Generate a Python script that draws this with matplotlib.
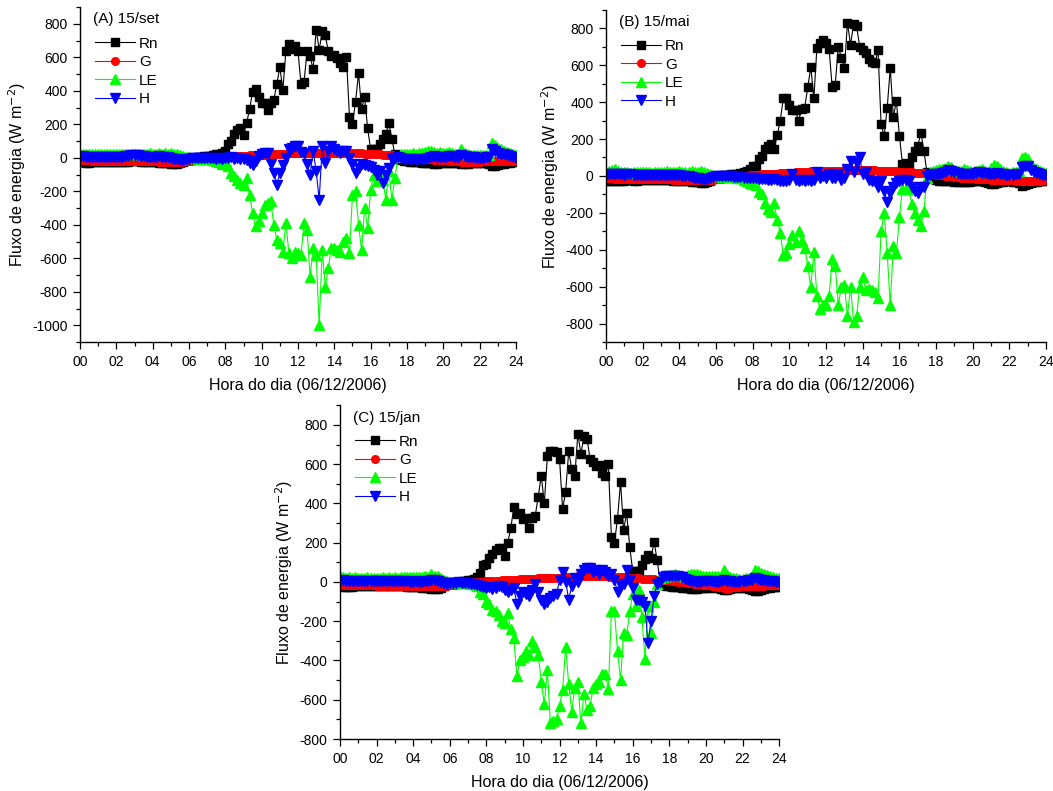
import numpy as np
import matplotlib.pyplot as plt
from matplotlib.ticker import MultipleLocator

plt.rcParams['font.family'] = ['Liberation Sans', 'DejaVu Sans']
plt.rcParams['axes.unicode_minus'] = False

# 10-min time steps, 00:00 .. 24:00
hours = np.arange(145) / 6.0

# ---------- (A) 15/set ----------
rn_a = [-25, -28, -30, -30, -28, -27, -26, -25, -25, -26, -27, -26,
        -25, -24, -24, -23, -24, -22, -20, -22, -24, -25, -26, -27,
        -28, -28, -29, -30, -31, -33, -35, -36, -35, -33, -25, -15,
        -8, -3, 0, 3, 5, 8, 10, 12, 15, 20, 25, 30,
        40, 85, 100, 140, 165, 175, 135, 205, 290, 395, 410, 365,
        330, 330, 285, 330, 345, 440, 540, 405, 640, 680, 650, 670,
        635, 440, 455, 635, 605, 530, 765, 645, 755, 735, 635, 610,
        615, 595, 565, 540, 600, 245, 200, 335, 505, 290, 365, 175,
        50, 55, 50, 85, 115, 140, 205, 115, 20, -5, -15, -20,
        -22, -25, -25, -27, -28, -30, -30, -32, -33, -35, -35, -34,
        -33, -32, -30, -30, -32, -34, -38, -40, -36, -33, -32, -31,
        -30, -30, -31, -35, -50, -48, -42, -38, -35, -32, -30, -28,
        -25]
g_a = [-15, -15, -16, -16, -17, -17, -17, -18, -18, -18, -19, -19,
       -19, -20, -20, -20, -20, -21, -21, -21, -21, -22, -22, -22,
       -22, -22, -23, -23, -23, -23, -23, -24, -24, -24, -23, -22,
       -20, -18, -16, -14, -12, -10, -8, -6, -4, -2, 0, 2,
       4, 5, 7, 8, 10, 11, 12, 13, 14, 15, 16, 17,
       18, 19, 20, 21, 22, 23, 24, 25, 25, 26, 27, 27,
       28, 28, 29, 29, 30, 30, 30, 31, 31, 31, 31, 31,
       30, 30, 30, 29, 29, 28, 28, 27, 26, 26, 25, 24,
       23, 22, 21, 20, 19, 18, 16, 15, 13, 11, 9, 7,
       5, 3, 1, -1, -3, -5, -7, -9, -10, -12, -13, -14,
       -15, -16, -17, -18, -19, -20, -24, -28, -27, -26, -25, -24,
       -23, -22, -22, -21, -21, -20, -20, -19, -19, -18, -18, -17,
       -17]
le_a = [22, 25, 20, 24, 22, 21, 23, 20, 22, 24, 21, 22,
        20, 23, 21, 22, 24, 20, 22, 25, 23, 20, 22, 26,
        24, 22, 27, 25, 28, 24, 26, 22, 24, 18, 12, 6,
        2, -2, -4, -5, -6, -8, -8, -10, -12, -18, -25, -35,
        -40, -50, -90, -110, -130, -150, -160, -120, -220, -330, -410, -380,
        -330, -280, -270, -260, -400, -490, -510, -560, -390, -570, -600, -560,
        -570, -580, -390, -430, -710, -540, -580, -1000, -550, -770, -660, -540,
        -540, -550, -560, -500, -480, -570, -220, -200, -400, -550, -300, -420,
        -190, -100, -140, -100, -130, -250, -80, -250, -120, 5, 20, 25,
        22, 25, 28, 24, 26, 30, 35, 40, 38, 34, 30, 32,
        30, 28, 32, 26, 24, 22, 50, 30, 20, 18, 16, 15,
        14, 16, 15, 18, 90, 75, 60, 50, 40, 35, 28, 20,
        15]
h_a = [5, 8, 6, 4, 7, 5, 6, 4, 5, 7, 3, 5,
       4, 6, 5, 8, 12, 15, 18, 14, 10, 8, 6, 5,
       4, 6, 8, 5, 3, 2, 0, -5, -10, -15, -12, -8,
       -5, -3, -2, 0, -2, -3, -2, 0, -3, -5, -4, -6,
       -2, 0, 2, -5, -3, -8, -10, -15, -30, -45, -20, 10,
       25, 30, 28, -40, -90, -160, -90, -45, 0, 50, 60, 70,
       70, 34, 26, -40, -100, 40, -80, -250, 70, -34, 40, 70,
       50, 40, 30, 40, 40, 0, -40, -90, -60, -40, -45, -50,
       -55, -70, -100, -80, -150, -100, -60, -6, 0, 2, 0, -5,
       -5, -8, -10, -12, -10, -8, -5, 0, 5, 8, 6, 4,
       3, 5, 8, 10, 6, 4, 15, 10, 5, 3, 2, 0,
       -2, 0, 2, 5, 50, 40, 30, 25, 20, 15, 10, 5,
       0]

# ---------- (B) 15/mai ----------
rn_b = [-25, -27, -28, -27, -26, -25, -25, -24, -24, -25, -25, -24,
        -24, -23, -23, -24, -24, -23, -22, -22, -23, -24, -25, -26,
        -27, -28, -29, -30, -31, -33, -35, -37, -36, -34, -28, -18,
        -10, -4, 0, 3, 6, 8, 10, 13, 18, 22, 28, 35,
        55, 55, 90, 110, 145, 160, 175, 145, 220, 300, 420, 420,
        385, 355, 355, 300, 360, 370, 480, 590, 420, 695, 720, 735,
        720, 685, 480, 495, 700, 640, 585, 830, 710, 825, 810, 700,
        680, 665, 635, 615, 610, 680, 280, 215, 370, 585, 320, 405,
        215, 65, 70, 60, 105, 135, 160, 235, 135, 20, -10, -18,
        -22, -25, -26, -27, -28, -30, -32, -34, -35, -34, -33, -32,
        -30, -28, -28, -30, -33, -36, -42, -45, -40, -35, -32, -30,
        -30, -31, -33, -40, -55, -50, -45, -40, -35, -32, -30, -28,
        -25]
g_b = [-12, -13, -13, -14, -14, -15, -15, -15, -16, -16, -16, -17,
       -17, -17, -18, -18, -18, -18, -19, -19, -19, -19, -20, -20,
       -20, -20, -21, -21, -21, -21, -21, -22, -22, -22, -21, -20,
       -18, -16, -14, -12, -10, -8, -6, -4, -2, 0, 2, 4,
       5, 6, 7, 8, 9, 10, 11, 12, 13, 14, 15, 16,
       17, 18, 19, 20, 21, 22, 23, 24, 24, 25, 26, 26,
       27, 27, 28, 28, 29, 29, 30, 30, 30, 31, 31, 31,
       31, 31, 30, 30, 30, 29, 29, 28, 27, 26, 25, 24,
       23, 22, 21, 20, 19, 18, 17, 16, 15, 13, 11, 9,
       7, 5, 3, 1, -1, -3, -5, -7, -9, -10, -11, -12,
       -13, -14, -15, -16, -17, -18, -20, -22, -22, -21, -21, -20,
       -20, -22, -25, -28, -30, -30, -29, -28, -27, -26, -25, -24,
       -23]
le_b = [20, 25, 30, 35, 28, 22, 20, 22, 18, 21, 23, 20,
        19, 22, 20, 18, 21, 23, 20, 22, 24, 21, 19, 22,
        25, 23, 20, 22, 24, 21, 23, 26, 22, 18, 10, 4,
        0, -3, -5, -6, -7, -8, -8, -10, -12, -20, -30, -40,
        -45, -50, -85, -100, -145, -180, -195, -145, -240, -310, -430, -420,
        -370, -320, -360, -300, -350, -390, -490, -600, -410, -650, -720, -700,
        -700, -650, -450, -490, -700, -600, -590, -760, -600, -790, -760, -600,
        -550, -620, -610, -620, -630, -660, -300, -200, -420, -700, -380, -420,
        -220, -70, -70, -70, -150, -200, -240, -270, -190, -10, 20, 25,
        30, 35, 40, 45, 55, 50, 30, 25, 28, 35, 30, 26,
        22, 25, 30, 35, 28, 22, 45, 60, 55, 35, 25, 20,
        18, 20, 22, 25, 95, 100, 90, 60, 45, 35, 28, 22,
        18]
h_b = [5, 8, 10, 12, 10, 8, 6, 8, 10, 7, 5, 6,
       5, 7, 6, 4, 5, 6, 5, 4, 3, 6, 5, 4,
       3, 2, 0, -3, -6, -10, -12, -15, -18, -15, -10, -5,
       -3, -2, 0, -1, -3, -2, -5, -6, -8, -10, -10, -12,
       -10, -12, -15, -14, -18, -20, -20, -18, -22, -25, -28, -25,
       -20, 10, -20, -30, -20, -30, -20, -30, -20, 20, -10, 0,
       -10, 10, -10, -10, 10, -20, -10, 40, 80, 20, 70, 100,
       10, 20, -20, -30, -30, -60, -30, -80, -140, -90, -60, -40,
       -30, -20, -20, -30, -60, -80, -90, -60, -60, 0, 5, 8,
       10, 12, 15, 20, 30, 25, 20, 15, 10, 12, 8, 10,
       12, 15, 20, 18, 15, 12, 10, 12, 15, 10, 8, 5,
       3, 5, 8, 10, 50, 55, 55, 30, 20, 15, 10, 5,
       3]

# ---------- (C) 15/jan ----------
rn_c = [-22, -24, -25, -25, -24, -23, -23, -22, -22, -23, -23, -22,
        -22, -21, -21, -22, -22, -21, -20, -21, -22, -23, -24, -25,
        -26, -27, -28, -29, -30, -32, -34, -35, -34, -30, -22, -12,
        -6, -2, 0, 2, 4, 6, 8, 10, 15, 27, 48, 87,
        92, 121, 143, 164, 172, 175, 133, 200, 273, 382, 345, 350,
        320, 325, 275, 325, 335, 435, 540, 400, 640, 665, 665, 660,
        625, 370, 460, 665, 575, 540, 755, 650, 745, 730, 625, 610,
        590, 595, 555, 540, 600, 230, 200, 320, 510, 265, 350, 180,
        55, 55, 55, 85, 115, 135, 120, 205, 110, 0, -15, -20,
        -22, -24, -26, -28, -30, -32, -33, -34, -35, -34, -33, -32,
        -30, -29, -28, -30, -33, -36, -40, -42, -38, -33, -31, -30,
        -30, -31, -34, -40, -48, -46, -40, -36, -33, -30, -28, -26,
        -24]
g_c = [-15, -15, -16, -16, -16, -17, -17, -17, -18, -18, -18, -18,
       -19, -19, -19, -19, -20, -20, -20, -20, -20, -21, -21, -21,
       -21, -21, -22, -22, -22, -22, -22, -22, -22, -21, -20, -19,
       -17, -15, -13, -11, -9, -7, -5, -3, -1, 0, 1, 2,
       3, 4, 5, 6, 7, 8, 9, 10, 11, 12, 12, 13,
       14, 15, 15, 16, 17, 18, 18, 19, 20, 20, 21, 22,
       22, 23, 24, 25, 26, 27, 28, 29, 30, 30, 31, 31,
       30, 30, 29, 29, 28, 27, 26, 25, 24, 23, 22, 21,
       20, 19, 18, 17, 16, 15, 14, 13, 12, 11, 10, 9,
       8, 6, 4, 2, 0, -2, -4, -6, -8, -10, -12, -14,
       -16, -18, -20, -22, -24, -26, -30, -35, -32, -28, -26, -24,
       -23, -22, -21, -21, -20, -20, -19, -19, -18, -18, -17, -17,
       -17]
le_c = [30, 25, 22, 24, 20, 23, 21, 22, 20, 23, 21, 22,
        20, 22, 24, 21, 23, 22, 24, 22, 25, 23, 26, 24,
        25, 27, 24, 26, 28, 26, 38, 32, 28, 20, 12, 5,
        2, 0, -2, -3, -4, -5, -5, -8, -12, -20, -50, -60,
        -100, -110, -145, -150, -170, -200, -210, -160, -240, -285, -480, -400,
        -380, -350, -370, -300, -330, -370, -510, -620, -450, -720, -710, -700,
        -630, -550, -330, -520, -660, -540, -510, -720, -570, -650, -630, -540,
        -520, -510, -470, -470, -545, -150, -150, -350, -500, -260, -270, -150,
        -60, -120, -40, -180, -390, -120, -260, -100, -10, 20, 25, 30,
        30, 35, 40, 35, 30, 32, 35, 40, 42, 38, 35, 30,
        30, 28, 32, 30, 28, 25, 60, 35, 25, 20, 18, 15,
        15, 18, 20, 25, 60, 55, 45, 40, 35, 30, 25, 20,
        20]
h_c = [5, 8, 6, 5, 7, 6, 5, 4, 6, 5, 4, 5,
       4, 5, 3, 4, 5, 4, 3, 4, 5, 4, 3, 2,
       2, 3, 2, 1, 3, 5, 8, 10, 5, 0, -5, -8,
       -6, -4, -3, -2, -4, -5, -5, -8, -10, -15, -20, -25,
       -30, -25, -35, -30, -20, -25, -40, -50, -40, -30, -110, -70,
       -50, -60, -70, -40, -10, -50, -90, -110, -100, -80, -70, -60,
       10, 50, 0, -90, -20, 20, 0, 40, 60, 70, 70, 50,
       60, 40, 60, 50, 30, 40, 10, -50, -20, -10, 60, 10,
       -30, -90, -90, -100, -120, -310, -200, -70, -10, 0, 25, 30,
       30, 30, 28, 30, 25, 15, 10, 5, 3, 0, 2, 5,
       3, 5, 4, 2, 0, 3, 10, 5, 3, 0, -2, 0,
       3, 5, 8, 10, 20, 15, 10, 8, 6, 5, 3, 2,
       0]

x_ticks = ['00', '02', '04', '06', '08', '10', '12', '14', '16', '18', '20', '22', '24']


def draw_panel(ax, rn, g, le, h, label, ylim):
    ax.plot(hours, rn, '-s', color='black', ms=5.5, lw=0.8, label='Rn')
    ax.plot(hours, g, '-o', color='red', ms=5.5, lw=0.8, label='G')
    ax.plot(hours, le, '-^', color='#00ff00', ms=6.5, lw=0.8, label='LE')
    ax.plot(hours, h, '-v', color='blue', ms=6.5, lw=0.8, label='H')

    ax.set_xlim(0, 24)
    ax.set_ylim(*ylim)
    ax.set_xticks(np.arange(0, 25, 2))
    ax.set_xticklabels(x_ticks)
    ax.xaxis.set_minor_locator(MultipleLocator(1))
    ax.yaxis.set_major_locator(MultipleLocator(200))
    ax.yaxis.set_minor_locator(MultipleLocator(100))
    ax.tick_params(which='major', direction='out', length=5, width=0.9, labelsize=10, pad=4)
    ax.tick_params(which='minor', direction='out', length=3, width=0.9)
    for side in ['top', 'right']:
        ax.spines[side].set_visible(False)
    for side in ['left', 'bottom']:
        ax.spines[side].set_linewidth(1.0)

    ax.set_xlabel('Hora do dia (06/12/2006)', fontsize=11.5, labelpad=7)
    ax.set_ylabel('Fluxo de energia (W m$^{-2}$)', fontsize=11.5, labelpad=3)

    ax.text(0.03, 0.963, label, transform=ax.transAxes, fontsize=11, va='center', ha='left')
    ax.legend(loc='upper left', bbox_to_anchor=(0.035, 0.912), frameon=False,
              fontsize=11, numpoints=1, handlelength=2.6, handletextpad=0.25,
              labelspacing=0.3, borderaxespad=0, borderpad=0)


fig = plt.figure(figsize=(10.53, 7.91), dpi=100)
ax_a = fig.add_axes([0.076, 0.5676, 0.414, 0.4235])
ax_b = fig.add_axes([0.5755, 0.5676, 0.418, 0.42])
ax_c = fig.add_axes([0.3229, 0.0657, 0.417, 0.422])

draw_panel(ax_a, rn_a, g_a, le_a, h_a, '(A) 15/set', (-1100, 900))
draw_panel(ax_b, rn_b, g_b, le_b, h_b, '(B) 15/mai', (-900, 900))
draw_panel(ax_c, rn_c, g_c, le_c, h_c, '(C) 15/jan', (-800, 900))

fig.savefig('out.png', dpi=100)
